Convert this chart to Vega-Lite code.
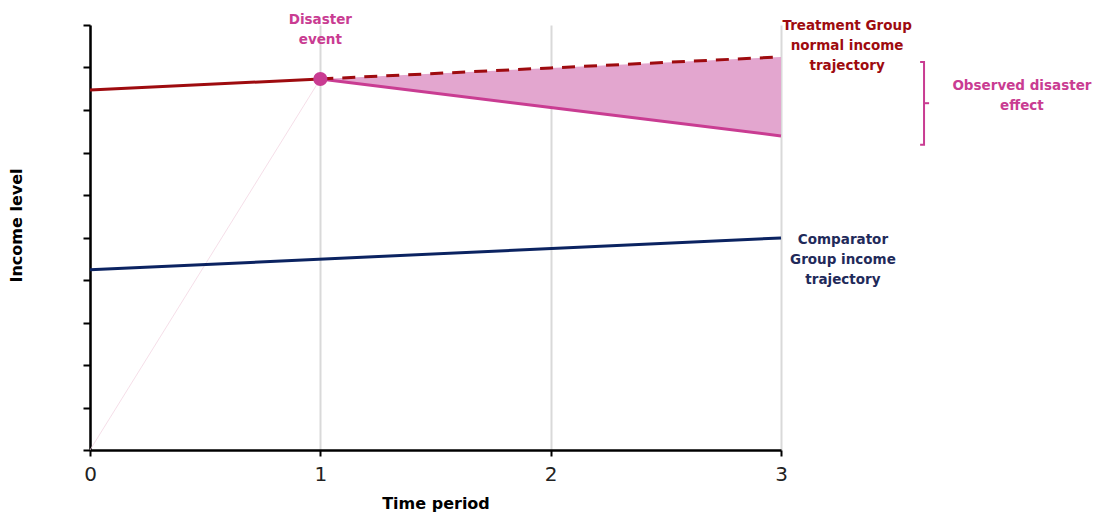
{
  "$schema": "https://vega.github.io/schema/vega-lite/v6.json",
  "width": 691,
  "height": 425,
  "autosize": "none",
  "padding": {"left": 90, "top": 25, "right": 315, "bottom": 63},
  "background": "white",
  "config": {"view": {"stroke": null}, "font": "DejaVu Sans"},
  "datasets": {
    "lines": [
      {"series": "pre", "t": 0, "v": 8.47},
      {"series": "pre", "t": 1, "v": 8.73},
      {"series": "counterfactual", "t": 1, "v": 8.73},
      {"series": "counterfactual", "t": 2, "v": 8.99},
      {"series": "counterfactual", "t": 3, "v": 9.25},
      {"series": "observed", "t": 1, "v": 8.73},
      {"series": "observed", "t": 2, "v": 8.06},
      {"series": "observed", "t": 3, "v": 7.39},
      {"series": "comparator", "t": 0, "v": 4.24},
      {"series": "comparator", "t": 3, "v": 4.99},
      {"series": "guide", "t": 0, "v": 0},
      {"series": "guide", "t": 1, "v": 8.73}
    ],
    "effect": [
      {"t": 1, "upper": 8.73, "lower": 8.73},
      {"t": 2, "upper": 8.99, "lower": 8.06},
      {"t": 3, "upper": 9.25, "lower": 7.39}
    ],
    "event": [{"t": 1, "v": 8.73}],
    "bracket": [
      {"seg": "a", "o": 1, "t": 3.604, "v": 9.13},
      {"seg": "a", "o": 2, "t": 3.621, "v": 9.13},
      {"seg": "a", "o": 3, "t": 3.621, "v": 7.18},
      {"seg": "a", "o": 4, "t": 3.604, "v": 7.18},
      {"seg": "b", "o": 1, "t": 3.621, "v": 8.16},
      {"seg": "b", "o": 2, "t": 3.643, "v": 8.16}
    ],
    "labels": [
      {"t": 1, "v": 10.12, "text": "Disaster\nevent", "kind": "event"},
      {"t": 3.287, "v": 9.98, "text": "Treatment Group\nnormal income\ntrajectory", "kind": "treatment"},
      {"t": 4.046, "v": 8.565, "text": "Observed disaster\neffect", "kind": "event"},
      {"t": 3.269, "v": 4.94, "text": "Comparator\nGroup income\ntrajectory", "kind": "comparator"}
    ]
  },
  "encoding": {
    "x": {
      "field": "t", "type": "quantitative",
      "scale": {"domain": [0, 3], "nice": false, "zero": false},
      "axis": {
        "values": [0, 1, 2, 3], "format": "d", "title": "Time period",
        "grid": true, "gridColor": "#d9d9d9", "gridWidth": 2,
        "domainColor": "#000000", "domainWidth": 2.5,
        "tickColor": "#000000", "tickWidth": 2, "tickSize": 6,
        "labelFontSize": 20, "labelColor": "#222222", "labelPadding": 8,
        "labelFont": "DejaVu Sans", "labelFlush": false,
        "titleFontSize": 16, "titleFontWeight": "bold", "titleColor": "#000000",
        "titlePadding": 11
      }
    },
    "y": {
      "field": "v", "type": "quantitative",
      "scale": {"domain": [0, 10], "nice": false, "zero": false},
      "axis": {
        "values": [0, 1, 2, 3, 4, 5, 6, 7, 8, 9, 10], "labels": false,
        "title": "Income level", "grid": false,
        "domainColor": "#000000", "domainWidth": 2.5,
        "tickColor": "#000000", "tickWidth": 2, "tickSize": 7,
        "titleFontSize": 16, "titleFontWeight": "bold", "titleColor": "#000000",
        "titlePadding": 58, "titleY": 200
      }
    }
  },
  "layer": [
    {
      "data": {"name": "effect"},
      "mark": {"type": "area", "color": "#E3A6CF", "opacity": 1},
      "encoding": {
        "y": {"field": "upper", "type": "quantitative"},
        "y2": {"field": "lower"}
      }
    },
    {
      "data": {"name": "lines"},
      "transform": [{"filter": "datum.series === 'guide'"}],
      "mark": {"type": "line", "color": "#F2D6E2", "strokeWidth": 0.8}
    },
    {
      "data": {"name": "lines"},
      "transform": [{"filter": "datum.series === 'comparator'"}],
      "mark": {"type": "line", "color": "#0B2361", "strokeWidth": 3}
    },
    {
      "data": {"name": "lines"},
      "transform": [{"filter": "datum.series === 'observed'"}],
      "mark": {"type": "line", "color": "#C93C92", "strokeWidth": 3}
    },
    {
      "data": {"name": "lines"},
      "transform": [{"filter": "datum.series === 'counterfactual'"}],
      "mark": {"type": "line", "color": "#9E0B0F", "strokeWidth": 3, "strokeDash": [13, 9]}
    },
    {
      "data": {"name": "lines"},
      "transform": [{"filter": "datum.series === 'pre'"}],
      "mark": {"type": "line", "color": "#9E0B0F", "strokeWidth": 3}
    },
    {
      "data": {"name": "event"},
      "mark": {"type": "circle", "color": "#C93C92", "opacity": 1, "size": 200}
    },
    {
      "data": {"name": "bracket"},
      "mark": {"type": "line", "color": "#C93C92", "strokeWidth": 2, "clip": false},
      "encoding": {
        "detail": {"field": "seg"},
        "order": {"field": "o"}
      }
    },
    {
      "data": {"name": "labels"},
      "mark": {"type": "text", "fontWeight": "bold", "fontSize": 13.5, "lineBreak": "\n", "lineHeight": 20, "align": "center", "baseline": "middle", "clip": false},
      "encoding": {
        "text": {"field": "text"},
        "color": {
          "field": "kind", "type": "nominal",
          "scale": {"domain": ["event", "treatment", "comparator"], "range": ["#C93C92", "#9E0B0F", "#1F2A5A"]},
          "legend": null
        }
      }
    }
  ]
}
